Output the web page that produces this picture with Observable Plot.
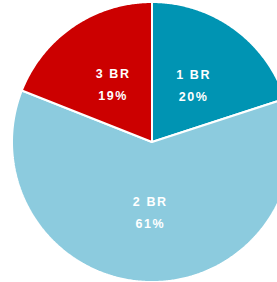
<!DOCTYPE html>
<html><head><meta charset="utf-8">
<script src="https://cdn.jsdelivr.net/npm/d3@7"></script>
<script src="https://cdn.jsdelivr.net/npm/@observablehq/plot@0.6"></script>
<style>
html,body{margin:0;padding:0;background:#fff;}
#chart text{letter-spacing:1.6px;}
</style>
</head><body><div id="chart"></div>
<script>
const categories = ["1 BR", "2 BR", "3 BR"];
const values = [20, 61, 19];
const labels = ["20%", "61%", "19%"];
const colors = ["#0094b3", "#8ccbde", "#cc0000"];

const W = 277, H = 282, cx = 152, cy = 142, R = 140;

const pie = d3.pie().sort(null).value(d => d.value)(
  categories.map((c, i) => ({cat: c, value: values[i], label: labels[i]}))
);

// wedge outlines: arc points from each slice's start/end angle (geometry only)
const pts = [];
for (const s of pie) {
  const n = Math.max(2, Math.ceil((s.endAngle - s.startAngle) / (Math.PI / 360)));
  for (let k = 0; k <= n; k++) {
    const a = s.startAngle + (s.endAngle - s.startAngle) * k / n;
    pts.push({cat: s.data.cat, x: Math.sin(a), y: Math.cos(a)});
  }
}
const labelData = pie.map(s => {
  const a = (s.startAngle + s.endAngle) / 2;
  return {text: s.data.cat + "\n" + s.data.label, x: 0.5 * Math.sin(a), y: 0.5 * Math.cos(a)};
});

const chart = Plot.plot({
  width: W, height: H,
  margin: 0,
  x: {domain: [-cx / R, (W - cx) / R], axis: null},
  y: {domain: [-(H - cy) / R, cy / R], axis: null},
  color: {domain: categories, range: colors},
  marks: [
    Plot.area(pts, {x1: "x", y1: "y", x2: () => 0, y2: () => 0, z: "cat", fill: "cat",
      stroke: "white", strokeWidth: 2, strokeLinejoin: "miter", curve: "linear"}),
    Plot.text(labelData, {x: "x", y: "y", text: "text", fill: "white", dy: -2.5,
      fontSize: 12.5, fontWeight: "bold", fontFamily: "Liberation Sans, Arial, sans-serif",
      lineHeight: 1.76, lineAnchor: "middle"})
  ]
});
document.getElementById("chart").appendChild(chart);
</script>
</body></html>
